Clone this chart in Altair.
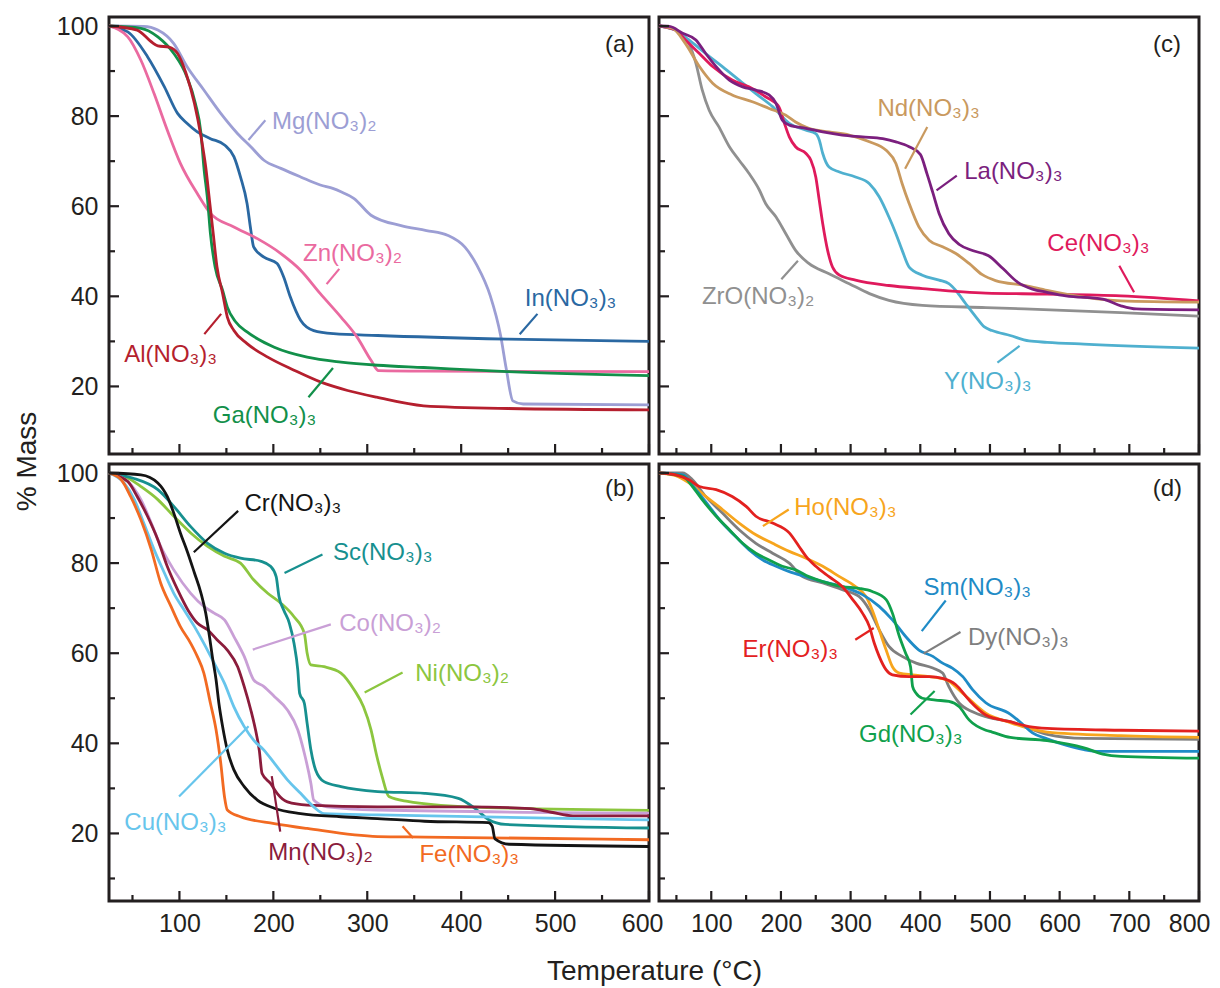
import altair as alt
import pandas as pd

# ---------------- Panel (a) ----------------
mg_t = [25, 62, 77, 94, 108, 126, 144, 162, 176, 190, 208, 229, 250, 264, 272, 286, 304, 336, 363, 386, 404, 417, 431, 442, 448, 455, 466, 600]
mg_m = [100, 99.9, 99.1, 96.1, 91.0, 85.8, 80.6, 76.1, 73.2, 70.2, 68.4, 66.5, 64.7, 63.9, 63.2, 61.7, 58.0, 55.7, 54.6, 53.5, 50.9, 46.8, 40.1, 31.3, 23.9, 16.8, 16.1, 15.9]
al_t = [25, 55, 70, 77, 89, 98, 107, 116, 123, 128, 132, 136, 140, 146, 151, 158, 172, 194, 222, 250, 279, 310, 360, 450, 600]
al_m = [100, 99.1, 96.5, 95.6, 95.3, 93.9, 89.5, 82.8, 75.4, 68.7, 61.3, 53.9, 46.5, 40.6, 35.4, 32.4, 29.5, 26.5, 23.6, 21.0, 19.1, 17.6, 15.7, 15.1, 14.8]
ga_t = [25, 59, 77, 94, 108, 117, 123, 126, 130, 133, 138, 146, 151, 160, 172, 201, 236, 272, 311, 360, 449, 600]
ga_m = [100, 99.5, 97.6, 93.9, 88.7, 82.8, 76.1, 68.7, 61.3, 53.9, 46.5, 41.3, 37.6, 34.3, 32.1, 28.7, 26.5, 25.4, 24.7, 24.2, 23.3, 22.4]
in_t = [25, 45, 66, 84, 98, 108, 119, 133, 148, 158, 165, 172, 176, 179, 190, 204, 211, 218, 229, 243, 264, 311, 449, 600]
in_m = [100, 98.7, 93.2, 86.5, 80.6, 78.4, 76.5, 75.0, 73.6, 71.0, 66.5, 60.6, 54.7, 51.0, 48.7, 47.3, 44.3, 39.9, 34.7, 32.4, 31.7, 31.3, 30.5, 30.0]
zn_t = [25, 45, 59, 73, 87, 101, 119, 133, 158, 183, 208, 229, 250, 272, 289, 304, 312, 360, 600]
zn_m = [100, 97.6, 92.4, 85.0, 76.9, 69.5, 62.8, 58.4, 55.4, 52.8, 49.5, 45.8, 40.6, 35.4, 31.0, 25.8, 23.5, 23.4, 23.3]

# ---------------- Panel (b) ----------------
cr_t = [25, 59, 77, 87, 94, 101, 109, 116, 123, 128, 132, 135, 139, 142, 146, 151, 158, 169, 183, 201, 229, 272, 311, 361, 429, 433, 436, 451, 600]
cr_m = [100, 99.6, 97.8, 94.8, 91.1, 86.7, 82.2, 77.8, 73.3, 68.9, 63.7, 59.3, 54.1, 48.9, 43.7, 38.5, 34.1, 30.4, 27.4, 25.6, 24.4, 23.7, 23.3, 22.7, 22.4, 21.6, 18.8, 17.6, 17.1]
sc_t = [25, 50, 77, 94, 112, 130, 148, 165, 187, 197, 203, 206, 211, 217, 222, 226, 228, 233, 236, 240, 245, 254, 272, 311, 361, 397, 415, 429, 447, 600]
sc_m = [100, 98.9, 96.3, 92.6, 88.1, 84.4, 82.2, 81.1, 80.4, 79.3, 77.0, 72.6, 69.6, 66.7, 62.2, 56.3, 51.1, 48.9, 44.4, 38.5, 34.1, 31.5, 30.4, 29.3, 28.9, 27.8, 25.5, 23.1, 22.0, 21.2]
ni_t = [25, 45, 59, 77, 94, 112, 130, 148, 165, 179, 194, 208, 222, 233, 236, 240, 254, 272, 286, 296, 304, 310, 316, 323, 343, 406, 600]
ni_m = [100, 98.9, 97.0, 94.1, 90.4, 86.7, 83.7, 81.5, 80.0, 76.3, 73.3, 71.1, 68.1, 64.4, 60.0, 57.4, 57.0, 55.6, 51.9, 48.1, 43.0, 37.3, 32.5, 28.2, 27.1, 25.9, 25.1]
co_t = [25, 45, 59, 70, 80, 94, 112, 126, 137, 148, 158, 169, 179, 190, 201, 215, 226, 233, 240, 243, 257, 311, 600]
co_m = [100, 98.1, 94.1, 88.9, 83.7, 78.5, 73.3, 70.4, 68.9, 67.4, 63.7, 59.3, 54.1, 52.6, 50.4, 47.4, 43.0, 37.8, 31.1, 27.4, 25.9, 25.2, 24.5]
mn_t = [25, 45, 55, 66, 77, 87, 98, 109, 119, 130, 140, 151, 162, 169, 176, 181, 185, 188, 197, 204, 215, 236, 311, 406, 474, 496, 519, 600]
mn_m = [100, 98.1, 94.8, 90.4, 85.2, 79.3, 74.1, 69.6, 66.7, 65.2, 63.0, 60.7, 57.0, 52.6, 47.4, 43.0, 38.5, 33.3, 31.1, 28.9, 27.0, 26.3, 25.9, 25.9, 25.5, 24.7, 23.9, 23.9]
cu_t = [25, 41, 52, 62, 73, 84, 94, 105, 116, 126, 137, 148, 158, 169, 179, 190, 201, 215, 229, 243, 254, 311, 600]
cu_m = [100, 97.8, 94.1, 88.9, 83.0, 77.8, 73.3, 69.6, 65.9, 62.2, 57.8, 53.3, 48.1, 43.7, 40.7, 38.5, 35.6, 31.9, 28.9, 25.9, 24.4, 24.1, 23.0]
fe_t = [25, 38, 48, 59, 70, 80, 91, 101, 112, 119, 126, 133, 139, 144, 148, 151, 165, 201, 236, 311, 361, 600]
fe_m = [100, 98.5, 94.8, 89.6, 83.0, 75.6, 70.4, 65.9, 62.2, 59.3, 55.6, 48.9, 43.0, 35.6, 28.1, 25.2, 23.7, 22.2, 21.1, 19.3, 19.2, 18.6]

# ---------------- Panel (c) ----------------
la_t = [25, 40, 59, 78, 92, 107, 126, 145, 164, 183, 193, 202, 212, 236, 260, 288, 317, 346, 365, 384, 400, 410, 418, 427, 441, 456, 476, 498, 519, 540, 561, 582, 609, 662, 688, 710, 800]
la_m = [100, 99.9, 98.4, 96.9, 93.9, 91.0, 88.0, 86.5, 85.8, 84.7, 82.8, 79.1, 78.0, 77.3, 76.5, 75.8, 75.4, 75.0, 74.3, 73.2, 71.5, 67.0, 63.0, 58.4, 53.9, 51.5, 50.1, 49.0, 46.1, 43.1, 41.6, 40.9, 40.1, 39.4, 37.9, 37.2, 37.0]
nd_t = [25, 44, 63, 83, 102, 130, 159, 183, 207, 221, 240, 269, 298, 327, 351, 365, 374, 384, 398, 413, 432, 451, 470, 489, 508, 551, 582, 635, 688, 800]
nd_m = [100, 99.5, 96.1, 91.0, 87.3, 84.7, 83.2, 81.7, 80.2, 78.7, 77.3, 76.5, 75.8, 74.3, 72.4, 69.5, 65.0, 60.6, 55.4, 52.4, 51.0, 49.5, 47.3, 44.8, 43.5, 42.4, 41.3, 39.8, 39.0, 38.7]
ce_t = [25, 49, 63, 83, 102, 130, 154, 178, 197, 205, 212, 221, 236, 243, 250, 255, 260, 267, 274, 284, 307, 355, 403, 494, 582, 688, 800]
ce_m = [100, 99.1, 96.9, 93.9, 91.0, 88.0, 86.5, 84.3, 82.1, 78.4, 75.4, 73.2, 71.7, 70.2, 66.5, 61.3, 56.1, 50.2, 46.5, 44.7, 43.6, 42.4, 41.7, 40.7, 40.5, 40.1, 39.0]
y_t = [25, 49, 68, 92, 116, 140, 164, 188, 212, 236, 250, 255, 260, 269, 284, 307, 327, 341, 355, 365, 374, 384, 403, 427, 441, 451, 465, 480, 492, 503, 529, 556, 582, 635, 800]
y_m = [100, 99.1, 96.9, 93.9, 91.0, 88.0, 85.0, 82.1, 78.4, 76.9, 76.1, 74.7, 71.7, 68.7, 67.6, 66.5, 65.0, 62.1, 57.6, 53.9, 50.2, 46.5, 44.7, 43.6, 42.8, 41.3, 38.4, 35.4, 33.2, 32.4, 31.3, 30.1, 29.8, 29.4, 28.5]
zr_t = [25, 49, 68, 78, 87, 97, 111, 126, 140, 154, 169, 178, 193, 207, 221, 240, 269, 298, 327, 355, 403, 494, 688, 800]
zr_m = [100, 99.1, 96.1, 91.7, 85.8, 81.3, 77.6, 73.2, 70.2, 67.3, 63.6, 60.6, 57.6, 53.9, 50.2, 47.3, 45.0, 42.8, 40.6, 39.1, 38.0, 37.5, 36.4, 35.6]

# ---------------- Panel (d) ----------------
er_t = [25, 49, 68, 83, 107, 130, 150, 164, 188, 212, 226, 236, 250, 269, 288, 303, 317, 327, 334, 341, 351, 360, 384, 413, 432, 451, 470, 494, 529, 556, 582, 688, 800]
er_m = [100, 99.6, 98.5, 97.0, 96.3, 94.8, 92.6, 90.4, 88.9, 86.7, 83.7, 81.5, 79.3, 77.0, 74.8, 71.9, 68.9, 65.9, 62.2, 59.3, 56.3, 55.2, 54.8, 54.8, 54.4, 53.0, 49.6, 46.3, 44.8, 43.7, 43.3, 42.9, 42.7]
ho_t = [25, 49, 68, 92, 116, 140, 164, 188, 212, 236, 260, 284, 307, 322, 331, 341, 351, 360, 370, 389, 413, 437, 461, 494, 529, 582, 688, 800]
ho_m = [100, 99.4, 97.8, 94.8, 91.9, 88.9, 86.3, 84.4, 82.6, 81.1, 79.3, 77.0, 74.8, 72.6, 69.6, 65.2, 60.7, 57.0, 55.6, 55.2, 54.8, 54.1, 51.1, 46.7, 44.6, 42.5, 41.7, 41.3]
dy_t = [25, 59, 73, 92, 116, 140, 164, 188, 212, 231, 260, 288, 312, 327, 341, 355, 374, 394, 418, 432, 441, 456, 475, 494, 529, 582, 635, 800]
dy_m = [100, 100, 98.5, 94.8, 91.1, 87.4, 84.4, 82.2, 80.0, 77.0, 75.6, 74.1, 72.6, 69.6, 65.2, 61.5, 59.3, 57.8, 56.7, 55.6, 52.6, 48.9, 47.0, 45.9, 44.8, 42.0, 41.1, 40.9]
sm_t = [25, 59, 78, 97, 116, 135, 154, 174, 193, 212, 236, 260, 288, 317, 341, 360, 379, 398, 418, 432, 446, 461, 475, 494, 529, 545, 561, 582, 609, 635, 656, 800]
sm_m = [100, 99.6, 96.3, 92.6, 88.9, 85.9, 83.0, 80.7, 79.3, 78.1, 77.0, 75.9, 74.8, 73.0, 70.4, 67.4, 63.7, 60.7, 59.3, 57.8, 56.7, 54.8, 51.9, 49.0, 46.5, 44.5, 42.3, 41.0, 39.6, 38.6, 38.2, 38.2]
gd_t = [25, 59, 73, 87, 107, 126, 145, 164, 183, 202, 221, 240, 260, 288, 312, 331, 351, 360, 370, 379, 386, 389, 394, 403, 422, 441, 456, 470, 494, 503, 529, 582, 635, 662, 688, 800]
gd_m = [100, 99.3, 97.0, 94.1, 90.4, 87.4, 84.4, 82.2, 80.7, 79.3, 78.5, 77.0, 75.9, 74.8, 74.4, 73.7, 71.9, 68.9, 63.7, 60.0, 57.0, 52.6, 51.1, 50.0, 49.6, 49.3, 48.1, 45.2, 42.9, 42.5, 41.3, 40.6, 39.0, 37.6, 37.1, 36.7]

# ---------------- Labels ----------------
NAMES = {
    "Mg": "Mg(NO₃)₂", "Al": "Al(NO₃)₃", "Ga": "Ga(NO₃)₃", "In": "In(NO₃)₃", "Zn": "Zn(NO₃)₂",
    "Cr": "Cr(NO₃)₃", "Sc": "Sc(NO₃)₃", "Ni": "Ni(NO₃)₂", "Co": "Co(NO₃)₂", "Mn": "Mn(NO₃)₂",
    "Cu": "Cu(NO₃)₃", "Fe": "Fe(NO₃)₃",
    "La": "La(NO₃)₃", "Nd": "Nd(NO₃)₃", "Ce": "Ce(NO₃)₃", "Y": "Y(NO₃)₃", "ZrO": "ZrO(NO₃)₂",
    "Er": "Er(NO₃)₃", "Ho": "Ho(NO₃)₃", "Dy": "Dy(NO₃)₃", "Sm": "Sm(NO₃)₃", "Gd": "Gd(NO₃)₃",
}
COLORS = {
    "Mg": "#9c9ed4", "Al": "#b51f2e", "Ga": "#12904a", "In": "#2a68a2", "Zn": "#ea6aa0",
    "Cr": "#141414", "Sc": "#17908f", "Ni": "#8cc63f", "Co": "#c99fd6", "Mn": "#8b1c3c",
    "Cu": "#67c5ec", "Fe": "#f26a22",
    "La": "#7b1f7e", "Nd": "#c9995e", "Ce": "#df1a5c", "Y": "#4fb0cf", "ZrO": "#909090",
    "Er": "#e3211f", "Ho": "#f7a51d", "Dy": "#7f7f7f", "Sm": "#1f8bc6", "Gd": "#10a04c",
}
# label anchor (T, M) and leader line (T1, M1, T2, M2)
label_a = {"Mg": (198.6, 78.7), "Zn": (231.6, 49.3), "In": (467.8, 39.4), "Al": (41.2, 26.9), "Ga": (135.5, 13.5)}
lead_a = {"Mg": (173.5, 74.7, 191.5, 79.1), "Zn": (256.7, 42.7, 270.2, 46.1), "In": (462.3, 31.6, 481.2, 36.1),
          "Al": (126.5, 31.6, 144.4, 36.1), "Ga": (237.4, 17.6, 263.5, 24.1)}
label_b = {"Cr": (169.2, 93.1), "Sc": (263.5, 82.2), "Co": (270.2, 66.4), "Ni": (351.1, 55.3),
           "Cu": (41.3, 22.3), "Mn": (194.7, 15.6), "Fe": (355.5, 15.3)}
lead_b = {"Cr": (115.3, 82.4, 162.5, 91.6), "Sc": (211.9, 77.8, 252.3, 81.9), "Co": (178.1, 60.8, 261.2, 66.4),
          "Ni": (297.2, 51.3, 337.6, 55.7), "Cu": (99.6, 28.2, 173.6, 43.8), "Mn": (198.3, 32.7, 207.3, 20.4),
          "Fe": (337.6, 21.6, 348.8, 19.0)}
label_c = {"Nd": (338.5, 81.6), "La": (463.0, 67.6), "Ce": (582.3, 51.6), "ZrO": (86.6, 39.8), "Y": (433.9, 20.9)}
lead_c = {"Nd": (378.2, 68.3, 410.0, 77.6), "La": (423.3, 63.5, 452.4, 66.8), "Ce": (685.6, 46.8, 706.8, 40.9),
          "ZrO": (200.6, 43.8, 224.4, 47.9), "Y": (510.7, 25.3, 542.5, 29.0)}
label_d = {"Ho": (219.1, 92.3), "Sm": (404.7, 74.5), "Dy": (468.3, 63.4), "Er": (144.9, 60.8), "Gd": (312.0, 41.9)}
lead_d = {"Ho": (174.1, 88.2, 211.2, 91.9), "Sm": (402.1, 64.9, 436.5, 71.7), "Dy": (404.7, 59.9, 457.7, 64.7),
          "Er": (306.7, 63.0, 333.2, 65.6), "Gd": (386.0, 46.4, 420.6, 51.6)}

left_major = [100, 200, 300, 400, 500, 600]
left_minor = [50, 150, 250, 350, 450, 550]
right_major = [100, 200, 300, 400, 500, 600, 700, 800]
right_minor = [50, 150, 250, 350, 450, 550, 650, 750]
y_major = [20, 40, 60, 80, 100]
y_minor = [10, 30, 50, 70, 90]

FONT = "Liberation Sans"
INK = "#231f20"
W, H = 540, 437
LABEL_SIZE = 24
TICK_SIZE = 25
TITLE_SIZE = 28


def panel(curves, labels, leads, letter, letter_pos, xmax, xmaj, xmin, show_x, show_y, xtitle="", ytitle="",
          flush_offset=10):
    rows = []
    for key, (ts, ms) in curves.items():
        for t, m in zip(ts, ms):
            rows.append({"T": t, "M": m, "name": key, "c": COLORS[key]})
    df = pd.DataFrame(rows)
    lab = pd.DataFrame([{"T": p[0], "M": p[1], "txt": NAMES[k], "c": COLORS[k]} for k, p in labels.items()])
    led = pd.DataFrame([{"T": p[0], "M": p[1], "T2": p[2], "M2": p[3], "c": COLORS[k]} for k, p in leads.items()])
    let = pd.DataFrame([{"T": letter_pos[0], "M": letter_pos[1], "txt": letter}])

    xscale = alt.Scale(domain=[25, xmax], nice=False, zero=False)
    yscale = alt.Scale(domain=[5, 102], nice=False, zero=False)
    if show_x:
        xaxis = alt.Axis(values=xmaj, ticks=False, domain=False, grid=False, labelFont=FONT,
                         labelFontSize=TICK_SIZE, labelColor=INK, labelPadding=10, labelFlush=True,
                         labelFlushOffset=flush_offset, labelOverlap=False,
                         titleFont=FONT, titleFontSize=TITLE_SIZE, titleFontWeight="normal", titleColor=INK,
                         titleX=545, titleY=70, titleAlign="center", titleBaseline="middle")
        X = alt.X("T:Q", scale=xscale, axis=xaxis, title=xtitle)
    else:
        X = alt.X("T:Q", scale=xscale, axis=None)
    if show_y:
        yaxis = alt.Axis(values=y_major, ticks=False, domain=False, grid=False, labelFont=FONT,
                         labelFontSize=TICK_SIZE, labelColor=INK, labelPadding=11, labelFlush=False,
                         titleFont=FONT, titleFontSize=TITLE_SIZE, titleFontWeight="normal", titleColor=INK,
                         titleX=-82, titleY=-3, titleAngle=270, titleAlign="center", titleBaseline="middle")
        Y = alt.Y("M:Q", scale=yscale, axis=yaxis, title=ytitle)
    else:
        Y = alt.Y("M:Q", scale=yscale, axis=None)

    lines = alt.Chart(df).mark_line(strokeWidth=2.8, interpolate="monotone").encode(
        x=X, y=Y, color=alt.Color("c:N", scale=None), detail="name:N")
    leaders = alt.Chart(led).mark_rule(strokeWidth=2.2).encode(
        x=X, y=Y, x2="T2:Q", y2="M2:Q", color=alt.Color("c:N", scale=None))
    texts = alt.Chart(lab).mark_text(align="left", baseline="middle", font=FONT, fontSize=LABEL_SIZE).encode(
        x=X, y=Y, text="txt:N", color=alt.Color("c:N", scale=None))
    letter_mark = alt.Chart(let).mark_text(align="right", baseline="middle", font=FONT, fontSize=LABEL_SIZE,
                                           color=INK).encode(x=X, y=Y, text="txt:N")
    xt_major = alt.Chart(pd.DataFrame({"T": xmaj})).mark_rule(color=INK, strokeWidth=2.2).encode(
        x=X, y=alt.value(H), y2=alt.value(H - 10))
    xt_minor = alt.Chart(pd.DataFrame({"T": xmin})).mark_rule(color=INK, strokeWidth=2.2).encode(
        x=X, y=alt.value(H), y2=alt.value(H - 6))
    yt_major = alt.Chart(pd.DataFrame({"M": y_major})).mark_rule(color=INK, strokeWidth=2.2).encode(
        y=Y, x=alt.value(0), x2=alt.value(10))
    yt_minor = alt.Chart(pd.DataFrame({"M": y_minor})).mark_rule(color=INK, strokeWidth=2.2).encode(
        y=Y, x=alt.value(0), x2=alt.value(6))
    return alt.layer(lines, leaders, texts, letter_mark, xt_major, xt_minor, yt_major, yt_minor).properties(
        width=W, height=H)


pa = panel({"Mg": (mg_t, mg_m), "In": (in_t, in_m), "Zn": (zn_t, zn_m), "Ga": (ga_t, ga_m), "Al": (al_t, al_m)},
           label_a, lead_a, "(a)", (584.5, 95.8), 600, left_major, left_minor, False, True)
pb = panel({"Ni": (ni_t, ni_m), "Sc": (sc_t, sc_m), "Co": (co_t, co_m), "Mn": (mn_t, mn_m),
            "Cu": (cu_t, cu_m), "Fe": (fe_t, fe_m), "Cr": (cr_t, cr_m)},
           label_b, lead_b, "(b)", (584.5, 96.4), 600, left_major, left_minor, True, True,
           xtitle="Temperature (°C)", ytitle="% Mass", flush_offset=14)
pc = panel({"ZrO": (zr_t, zr_m), "Y": (y_t, y_m), "Ce": (ce_t, ce_m), "Nd": (nd_t, nd_m), "La": (la_t, la_m)},
           label_c, lead_c, "(c)", (774.0, 95.7), 800, right_major, right_minor, False, False)
pdd = panel({"Dy": (dy_t, dy_m), "Ho": (ho_t, ho_m), "Sm": (sm_t, sm_m), "Gd": (gd_t, gd_m), "Er": (er_t, er_m)},
            label_d, lead_d, "(d)", (775.7, 96.4), 800, right_major, right_minor, True, False, flush_offset=11)

chart = alt.concat(pa, pc, pb, pdd, columns=2, spacing=10, bounds="flush").resolve_scale(
    x="independent", y="independent").properties(
    padding={"left": 3, "top": 4, "right": 0, "bottom": 0}).configure(
    background="white").configure_view(stroke=INK, strokeWidth=3)

chart.save("out.html", embed_options={"renderer": "svg", "actions": False})
